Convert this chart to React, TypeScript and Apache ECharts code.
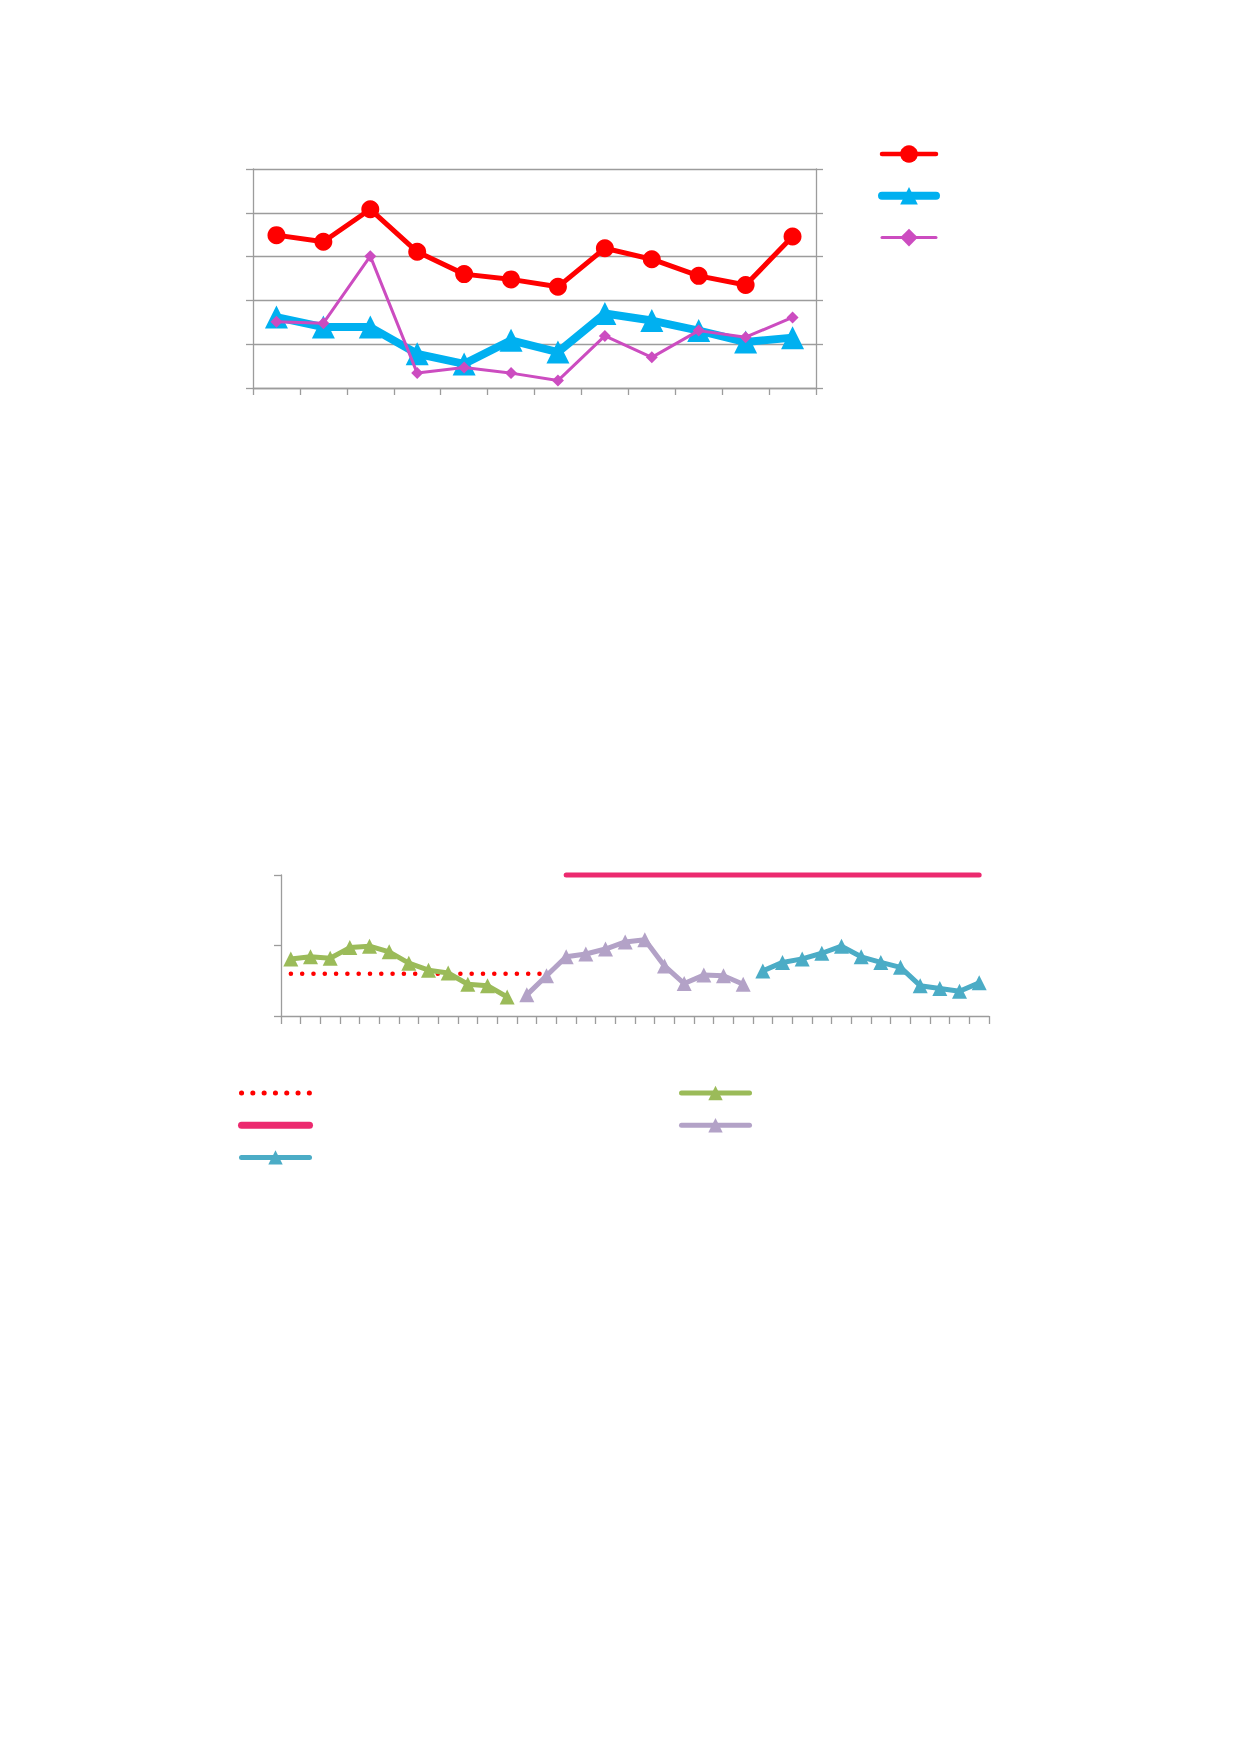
import React, { useEffect, useRef } from 'react';
import * as echarts from 'echarts';

// ---- Top chart data ----
const topCategories = ['1', '2', '3', '4', '5', '6', '7', '8', '9', '10', '11', '12'];
const redValues = [3.49, 3.34, 4.08, 3.11, 2.6, 2.48, 2.31, 3.19, 2.94, 2.56, 2.35, 3.46];
const blueValues = [1.62, 1.39, 1.39, 0.78, 0.55, 1.09, 0.82, 1.7, 1.54, 1.31, 1.05, 1.15];
const magentaValues = [1.51, 1.48, 3.01, 0.34, 0.47, 0.34, 0.17, 1.19, 0.7, 1.31, 1.16, 1.61];

// ---- Bottom chart data ----
const bottomCategories = [
  '1', '2', '3', '4', '5', '6', '7', '8', '9', '10', '11', '12',
  '13', '14', '15', '16', '17', '18', '19', '20', '21', '22', '23', '24',
  '25', '26', '27', '28', '29', '30', '31', '32', '33', '34', '35', '36',
];
const targetValues = [0.6, 0.6, 0.6, 0.6, 0.6, 0.6, 0.6, 0.6, 0.6, 0.6, 0.6, 0.6, 0.6, 0.6];
const targetStart = 0;
const upperValues = [2, 2, 2, 2, 2, 2, 2, 2, 2, 2, 2, 2, 2, 2, 2, 2, 2, 2, 2, 2, 2, 2];
const upperStart = 14;
const greenValues = [0.81, 0.84, 0.82, 0.97, 0.99, 0.91, 0.75, 0.65, 0.61, 0.45, 0.43, 0.27];
const greenStart = 0;
const purpleValues = [0.3, 0.57, 0.84, 0.88, 0.95, 1.05, 1.08, 0.71, 0.46, 0.58, 0.57, 0.45];
const purpleStart = 12;
const tealValues = [0.64, 0.76, 0.81, 0.89, 0.99, 0.84, 0.76, 0.69, 0.43, 0.39, 0.35, 0.47];
const tealStart = 24;

function place(values: number[], start: number, total: number): (number | null)[] {
  const out: (number | null)[] = [];
  for (let i = 0; i < total; i++) {
    const j = i - start;
    out.push(j >= 0 && j < values.length ? values[j] : null);
  }
  return out;
}

const AXIS = '#9C9C9C';

export default function App() {
  const ref = useRef<HTMLDivElement>(null);
  useEffect(() => {
    if (!ref.current) return;
    const chart = echarts.init(ref.current, undefined, { renderer: 'svg' });
    const n = bottomCategories.length;
    const axisLine = { show: true, lineStyle: { color: AXIS, width: 1.3 } };
    const option: any = {
      animation: false,
      backgroundColor: '#ffffff',
      grid: [
        { left: 253, top: 169, width: 563, height: 219, containLabel: false },
        { left: 281, top: 875, width: 708, height: 141, containLabel: false },
      ],
      xAxis: [
        {
          gridIndex: 0, type: 'category', data: topCategories, boundaryGap: true,
          axisLine, axisTick: { show: true, interval: 0, length: 7, lineStyle: { color: AXIS, width: 1.3 } },
          axisLabel: { show: false }, splitLine: { show: false },
        },
        {
          gridIndex: 1, type: 'category', data: bottomCategories, boundaryGap: true,
          axisLine, axisTick: { show: true, interval: 0, length: 8, lineStyle: { color: AXIS, width: 1.3 } },
          axisLabel: { show: false }, splitLine: { show: false },
        },
      ],
      yAxis: [
        {
          gridIndex: 0, type: 'value', min: 0, max: 5, interval: 1, position: 'left',
          axisLine, axisTick: { show: true, length: 7, lineStyle: { color: AXIS, width: 1.3 } },
          axisLabel: { show: false }, splitLine: { show: true, lineStyle: { color: AXIS, width: 1.3 } },
        },
        {
          gridIndex: 0, type: 'value', min: 0, max: 5, interval: 1, position: 'right',
          axisLine, axisTick: { show: true, length: 7, lineStyle: { color: AXIS, width: 1.3 } },
          axisLabel: { show: false }, splitLine: { show: false },
        },
        {
          gridIndex: 1, type: 'value', min: 0, max: 2, interval: 1, position: 'left',
          axisLine, axisTick: { show: true, length: 7, lineStyle: { color: AXIS, width: 1.3 } },
          axisLabel: { show: false }, splitLine: { show: false },
        },
      ],
      legend: [
        {
          data: [
            { name: '系列1', lineStyle: { width: 4.5, cap: 'round' } },
            { name: '系列2', lineStyle: { width: 8, cap: 'round' } },
            { name: '系列3', lineStyle: { width: 3, cap: 'round' } },
          ],
          orient: 'vertical', left: 878, top: 143, padding: 0,
          itemWidth: 54, itemHeight: 22, itemGap: 22,
          formatter: () => '', textStyle: { fontSize: 10 }, selectedMode: false,
        },
        {
          data: [
            { name: '目標', itemStyle: { opacity: 0 }, lineStyle: { width: 5 } },
            { name: '上限', itemStyle: { opacity: 0 }, lineStyle: { width: 7, cap: 'round' } },
            { name: '第3期', lineStyle: { width: 5, cap: 'round' } },
          ],
          orient: 'vertical', left: 238, top: 1084, padding: 0,
          itemWidth: 68, itemHeight: 18, itemGap: 16,
          formatter: () => '', textStyle: { fontSize: 10 }, selectedMode: false,
        },
        {
          data: [
            { name: '第1期', lineStyle: { width: 5, cap: 'round' } },
            { name: '第2期', lineStyle: { width: 5, cap: 'round' } },
          ],
          orient: 'vertical', left: 679, top: 1084, padding: 0,
          itemWidth: 68, itemHeight: 18, itemGap: 16,
          formatter: () => '', textStyle: { fontSize: 10 }, selectedMode: false,
        },
      ],
      series: [
        {
          name: '系列1', type: 'line', xAxisIndex: 0, yAxisIndex: 0, data: redValues,
          symbol: 'circle', symbolSize: 18, color: '#FF0000', showAllSymbol: true,
          lineStyle: { width: 5, color: '#FF0000' }, itemStyle: { color: '#FF0000' }, z: 2,
        },
        {
          name: '系列2', type: 'line', xAxisIndex: 0, yAxisIndex: 0, data: blueValues,
          symbol: 'triangle', symbolSize: 23, color: '#00B0F0', showAllSymbol: true,
          lineStyle: { width: 8, color: '#00B0F0' }, itemStyle: { color: '#00B0F0' }, z: 3,
        },
        {
          name: '系列3', type: 'line', xAxisIndex: 0, yAxisIndex: 0, data: magentaValues,
          symbol: 'diamond', symbolSize: 12, color: '#CC4CC0', showAllSymbol: true,
          lineStyle: { width: 3, color: '#CC4CC0' }, itemStyle: { color: '#CC4CC0' }, z: 4,
        },
        {
          name: '目標', type: 'line', xAxisIndex: 1, yAxisIndex: 2,
          data: place(targetValues, targetStart, n), symbol: 'none', color: '#FF0000',
          lineStyle: { width: 4.5, color: '#FF0000', type: [0.1, 11.2], cap: 'round' },
          itemStyle: { color: '#FF0000' }, z: 2,
        },
        {
          name: '上限', type: 'line', xAxisIndex: 1, yAxisIndex: 2, clip: false,
          data: place(upperValues, upperStart, n), symbol: 'none', color: '#EC2A6F',
          lineStyle: { width: 5, color: '#EC2A6F', cap: 'round' },
          itemStyle: { color: '#EC2A6F' }, z: 2,
        },
        {
          name: '第1期', type: 'line', xAxisIndex: 1, yAxisIndex: 2, showAllSymbol: true,
          data: place(greenValues, greenStart, n), symbol: 'triangle', symbolSize: 15, color: '#9BBB59',
          lineStyle: { width: 5, color: '#9BBB59' }, itemStyle: { color: '#9BBB59' }, z: 3,
        },
        {
          name: '第2期', type: 'line', xAxisIndex: 1, yAxisIndex: 2, showAllSymbol: true,
          data: place(purpleValues, purpleStart, n), symbol: 'triangle', symbolSize: 15, color: '#B3A2C7',
          lineStyle: { width: 5, color: '#B3A2C7' }, itemStyle: { color: '#B3A2C7' }, z: 3,
        },
        {
          name: '第3期', type: 'line', xAxisIndex: 1, yAxisIndex: 2, showAllSymbol: true,
          data: place(tealValues, tealStart, n), symbol: 'triangle', symbolSize: 15, color: '#4BACC6',
          lineStyle: { width: 5, color: '#4BACC6' }, itemStyle: { color: '#4BACC6' }, z: 3,
        },
      ],
    };
    chart.setOption(option);
    return () => chart.dispose();
  }, []);
  return (
    <div
      ref={ref}
      style={{ position: 'absolute', left: 0, top: 0, width: 1240, height: 1754, background: '#fff' }}
    />
  );
}
